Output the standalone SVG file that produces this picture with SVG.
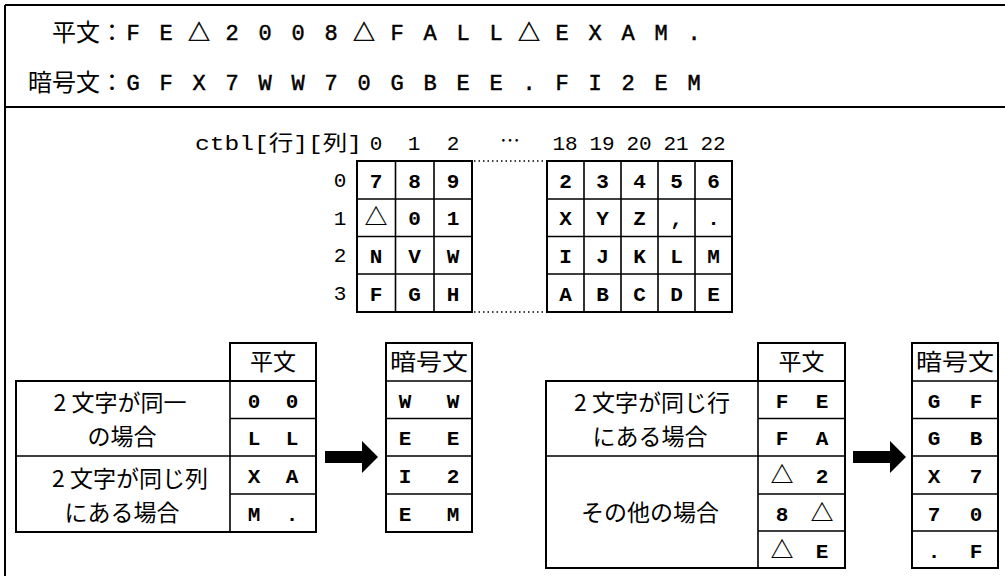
<svg xmlns="http://www.w3.org/2000/svg" width="1005" height="576" viewBox="0 0 1005 576">
<style>
.ln{stroke:#000;stroke-width:2;fill:none}
.tl{stroke:#000;stroke-width:1.6;fill:none}
.bx{stroke:#000;stroke-width:2;fill:#fff}
.dot{stroke:#000;stroke-width:1.6;stroke-dasharray:1.5 3;fill:none}
.jp{font-family:"Noto Sans CJK JP",sans-serif;fill:#000}
.mo{font-family:"Liberation Mono","Noto Sans CJK JP",monospace;fill:#000;stroke:#000;stroke-width:0.5}
.hd{font-family:"Liberation Mono","Noto Sans CJK JP",monospace;fill:#000;font-size:21px}
.cl{font-family:"Liberation Mono","Noto Sans CJK JP",monospace;font-weight:bold;font-size:21px;fill:#000;text-anchor:middle}
.tri{font-family:"Noto Sans CJK JP",sans-serif;font-size:23px}
.lb{font-family:"Noto Sans CJK JP",sans-serif;font-size:23px;fill:#000;text-anchor:middle}
</style>
<rect width="1005" height="576" fill="#fff"/>
<g id="frame">
<path class="ln" d="M5,5 H1005 M5,5 V576 M5,107 H1005"/>
</g>
<g id="header">
<text class="jp" x="124" y="41" font-size="24" text-anchor="end">平文：</text>
<text class="mo" font-size="22" text-anchor="middle" y="40" x="133 166 199 232 265 298 331 364 397 430 463 496 529 562 595 628 661 694">FE△2008△FALL△EXAM.</text>
<text class="jp" x="124" y="91" font-size="24" text-anchor="end">暗号文：</text>
<text class="mo" font-size="22" text-anchor="middle" y="90" x="133 166 199 232 265 298 331 364 397 430 463 496 529 562 595 628 661 694">GFX7WW70GBEE.FI2EM</text>
</g>
<g id="ctbl">
<text class="hd" x="195" y="150" textLength="167" lengthAdjust="spacingAndGlyphs">ctbl[行][列]</text>
<text class="hd" text-anchor="middle" y="150" x="376 414 453">012</text>
<text class="jp" font-size="20" text-anchor="middle" x="510" y="148">⋯</text>
<text class="hd" text-anchor="middle" y="150"><tspan x="565">18</tspan><tspan x="602">19</tspan><tspan x="639">20</tspan><tspan x="676">21</tspan><tspan x="713">22</tspan></text>
<text class="hd" text-anchor="middle" x="340 340 340 340" y="187 224.5 262 300">0123</text>
<rect class="bx" x="357" y="161" width="115" height="151"/>
<path class="tl" d="M395.5,161 V312 M434,161 V312 M357,199 H472 M357,236.5 H472 M357,274 H472"/>
<rect class="bx" x="547" y="161" width="185" height="151"/>
<path class="tl" d="M584,161 V312 M621,161 V312 M658,161 V312 M695,161 V312 M547,199 H732 M547,236.5 H732 M547,274 H732"/>
<path class="dot" d="M474,161 H546 M474,312 H546"/>
<text class="cl" y="187.5" x="376 414.5 453 565.5 602.5 639.5 676.5 713.5">78923456</text>
<text class="cl" y="225" x="376 414.5 453 565.5 602.5 639.5 676.5 713.5"><tspan class="tri">△</tspan>01XYZ,.</text>
<text class="cl" y="262.5" x="376 414.5 453 565.5 602.5 639.5 676.5 713.5">NVWIJKLM</text>
<text class="cl" y="300.5" x="376 414.5 453 565.5 602.5 639.5 676.5 713.5">FGHABCDE</text>
</g>
<g id="left-plain">
<rect class="bx" x="230" y="343" width="86" height="38"/>
<text class="lb" x="273" y="370">平文</text>
<rect class="bx" x="16" y="381" width="300" height="151"/>
<path class="tl" d="M230,381 V532 M230,418.5 H316 M16,456 H316 M230,494 H316"/>
<text class="lb" x="120" y="411">2 文字が同一</text>
<text class="lb" x="122" y="445">の場合</text>
<text class="lb" x="130" y="487">2 文字が同じ列</text>
<text class="lb" x="122" y="521">にある場合</text>
<text class="cl" y="407.5" x="254 292">00</text>
<text class="cl" y="445" x="254 292">LL</text>
<text class="cl" y="482.5" x="254 292">XA</text>
<text class="cl" y="520.5" x="254 292">M.</text>
</g>
<g id="left-cipher">
<rect class="bx" x="386" y="343" width="86" height="189"/>
<path class="tl" d="M386,381 H472 M386,418.5 H472 M386,456 H472 M386,494 H472"/>
<text class="lb" x="429" y="370" textLength="78" lengthAdjust="spacingAndGlyphs">暗号文</text>
<text class="cl" y="407.5" x="405 453">WW</text>
<text class="cl" y="445" x="405 453">EE</text>
<text class="cl" y="482.5" x="405 453">I2</text>
<text class="cl" y="520.5" x="405 453">EM</text>
</g>
<g id="right-plain">
<rect class="bx" x="758" y="343" width="87" height="38"/>
<text class="lb" x="801.5" y="370">平文</text>
<rect class="bx" x="546" y="381" width="299" height="187"/>
<path class="tl" d="M758,381 V568 M758,418.5 H845 M546,456 H845 M758,494 H845 M758,531 H845"/>
<text class="lb" x="652" y="411">2 文字が同じ行</text>
<text class="lb" x="650" y="445">にある場合</text>
<text class="lb" x="650" y="521">その他の場合</text>
<text class="cl" y="407.5" x="782 822">FE</text>
<text class="cl" y="445" x="782 822">FA</text>
<text class="cl" y="482.5" x="782 822"><tspan class="tri">△</tspan>2</text>
<text class="cl" y="520.5" x="782 822">8<tspan class="tri">△</tspan></text>
<text class="cl" y="557.5" x="782 822"><tspan class="tri">△</tspan>E</text>
</g>
<g id="right-cipher">
<rect class="bx" x="912" y="343" width="86" height="225"/>
<path class="tl" d="M912,381 H998 M912,418.5 H998 M912,456 H998 M912,494 H998 M912,531 H998"/>
<text class="lb" x="955" y="370" textLength="78" lengthAdjust="spacingAndGlyphs">暗号文</text>
<text class="cl" y="407.5" x="934 976">GF</text>
<text class="cl" y="445" x="934 976">GB</text>
<text class="cl" y="482.5" x="934 976">X7</text>
<text class="cl" y="520.5" x="934 976">70</text>
<text class="cl" y="557.5" x="934 976">.F</text>
</g>
<g id="connectors">
<polygon points="325,451 362,451 362,441 378,457 362,473 362,463 325,463" fill="#000"/>
<polygon points="853,451 890,451 890,441 906,457 890,473 890,463 853,463" fill="#000"/>
</g>
</svg>
